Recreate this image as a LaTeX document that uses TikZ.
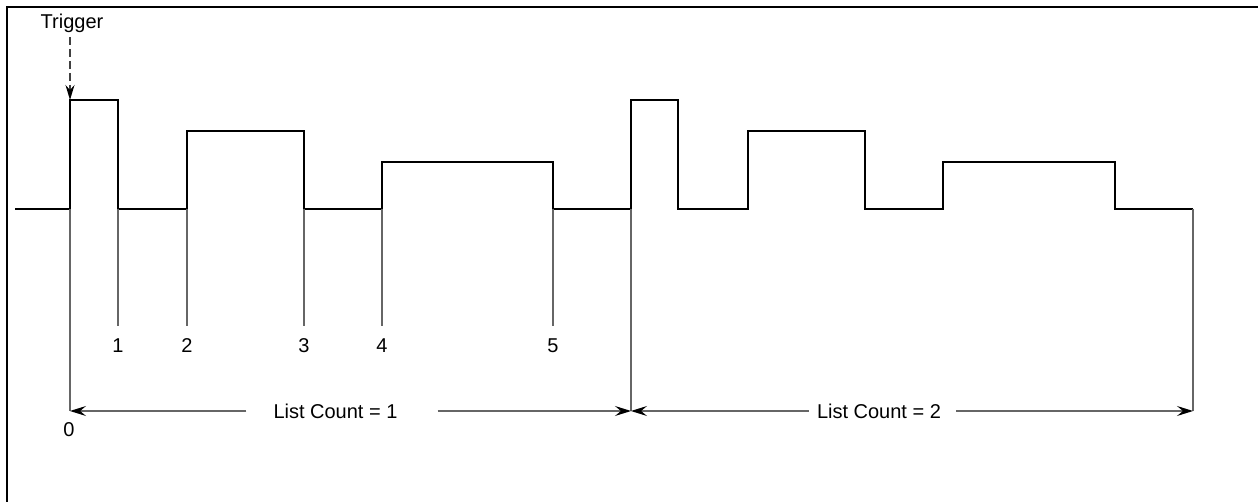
\documentclass[tikz,border=0pt]{standalone}
\usepackage{fontspec}
\setmainfont{Liberation Sans}
\usetikzlibrary{arrows.meta}
\begin{document}
\begin{tikzpicture}[x=1pt,y=-1pt,
  wave/.style={line width=1.4pt, black},
  marker/.style={line width=1.2pt, black!60},
  tipped/.style={line width=1.2pt, black!60, -{Stealth[length=16pt,width=10pt,inset=6pt,black]}},
  lbl/.style={font=\fontsize{20}{24}\selectfont, inner sep=0pt, text=black}]
\useasboundingbox (0,0) rectangle (1258,502);
% frame
\draw[wave] (7,502) -- (7,7) -- (1258,7);
% waveform
\draw[wave] (15,209) -- (70,209) -- (70,100) -- (118,100) -- (118,209) -- (187,209) -- (187,131) -- (304,131) -- (304,209) -- (382,209) -- (382,162) -- (553,162) -- (553,209) -- (631,209)
  -- (631,100) -- (678,100) -- (678,209) -- (748,209) -- (748,131) -- (865,131) -- (865,209) -- (943,209) -- (943,162) -- (1115,162) -- (1115,209) -- (1193,209);
% coordinates
\coordinate (a0) at (70,411);
\coordinate (a1) at (631,411);
\coordinate (a2) at (1193,411);
% markers
\draw[marker] (70,209) -- (a0);
\draw[marker] (631,209) -- (a1);
\draw[marker] (1193,209) -- (a2);
\foreach \x/\n in {118/1,187/2,304/3,382/4,553/5}{
  \draw[marker] (\x,209) -- (\x,326);
  \node[lbl] (n\n) at (\x,346) {\n};
}
\node[lbl] (n0) at (69,430) {0};
% trigger
\node[lbl] (trig) at (72,23) {Trigger};
\coordinate (tstart) at (70,37);
\draw[line width=1.3pt, black!75, dash pattern=on 8pt off 4pt, -{Stealth[length=15pt,width=9pt,inset=5pt,black]}] (tstart) -- (70,100);
% list counts
\node[lbl] (L1) at (335.5,411) {List Count = 1};
\node[lbl] (L2) at (879,411) {List Count = 2};
\draw[tipped] ([xshift=-27pt]L1.west) -- (a0);
\draw[tipped] ([xshift=40pt]L1.east) -- (a1);
\draw[tipped] ([xshift=-8pt]L2.west) -- (a1);
\draw[tipped] ([xshift=15pt]L2.east) -- (a2);
\end{tikzpicture}
\end{document}
